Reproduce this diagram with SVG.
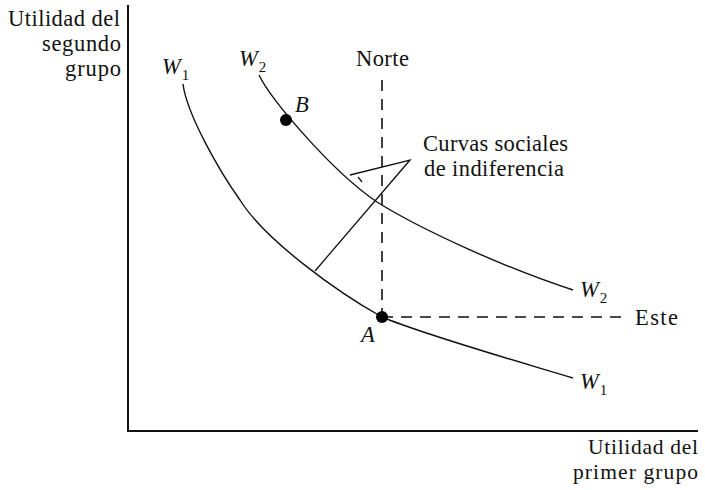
<svg xmlns="http://www.w3.org/2000/svg" width="705" height="490" viewBox="0 0 705 490">
<style>
  text { font-family: "Liberation Serif", "Times New Roman", serif; font-size: 22.5px; fill: #111; }
  .it { font-style: italic; }
  .sub { font-size: 15px; font-style: normal; }
  .small { font-size: 21.5px; }
  .axis { stroke: #111; stroke-width: 2; fill: none; }
  .curve { stroke: #111; stroke-width: 1.4; fill: none; }
  .dash { stroke: #111; stroke-width: 1.6; fill: none; stroke-dasharray: 11 8; }
  .lead { stroke: #111; stroke-width: 1.3; fill: none; }
</style>
<rect width="705" height="490" fill="#fff"/>
<g id="axes">
  <line class="axis" x1="128" y1="5" x2="128" y2="432"/>
  <line class="axis" x1="127" y1="431" x2="698" y2="431"/>
  <text x="120" y="26" text-anchor="end" textLength="112">Utilidad del</text>
  <text x="121" y="51" text-anchor="end" textLength="79">segundo</text>
  <text x="121" y="76" text-anchor="end" textLength="56">grupo</text>
  <text class="small" x="698" y="454" text-anchor="end" textLength="110">Utilidad del</text>
  <text class="small" x="698" y="479" text-anchor="end" textLength="125">primer grupo</text>
</g>
<g id="connectors">
  <line class="dash" x1="382" y1="80" x2="382" y2="317"/>
  <line class="dash" x1="382" y1="317" x2="628" y2="317"/>
  <polyline class="lead" points="315,271 410,160 350,175"/>
  <line class="lead" x1="358" y1="177" x2="362" y2="182"/>
</g>
<g id="curve-W1">
  <path class="curve" d="M183,84 C187,115 220,172 240,200 C265,240 337,292 382,317 C425,335 520,362 573,378"/>
  <text class="it" x="162" y="74">W<tspan class="sub" dx="1" dy="6">1</tspan></text>
  <text class="it" x="580" y="389">W<tspan class="sub" dx="1" dy="6">1</tspan></text>
</g>
<g id="curve-W2">
  <path class="curve" d="M259,75 C270,98 330,170 377,202 C420,229 505,268 573,290"/>
  <text class="it" x="239" y="66">W<tspan class="sub" dx="1" dy="6">2</tspan></text>
  <text class="it" x="580" y="297">W<tspan class="sub" dx="1" dy="6">2</tspan></text>
</g>
<g id="point-A">
  <circle cx="382" cy="317" r="6" fill="#000"/>
  <text class="it" x="361" y="342">A</text>
</g>
<g id="point-B">
  <circle cx="286" cy="120" r="6" fill="#000"/>
  <text class="it" x="295" y="112">B</text>
</g>
<g id="label-norte">
  <text x="356" y="66" textLength="53">Norte</text>
</g>
<g id="label-este">
  <text x="635" y="325" textLength="43">Este</text>
</g>
<g id="label-curvas">
  <text x="423" y="151" textLength="145">Curvas sociales</text>
  <text x="424" y="176" textLength="140">de indiferencia</text>
</g>
</svg>
